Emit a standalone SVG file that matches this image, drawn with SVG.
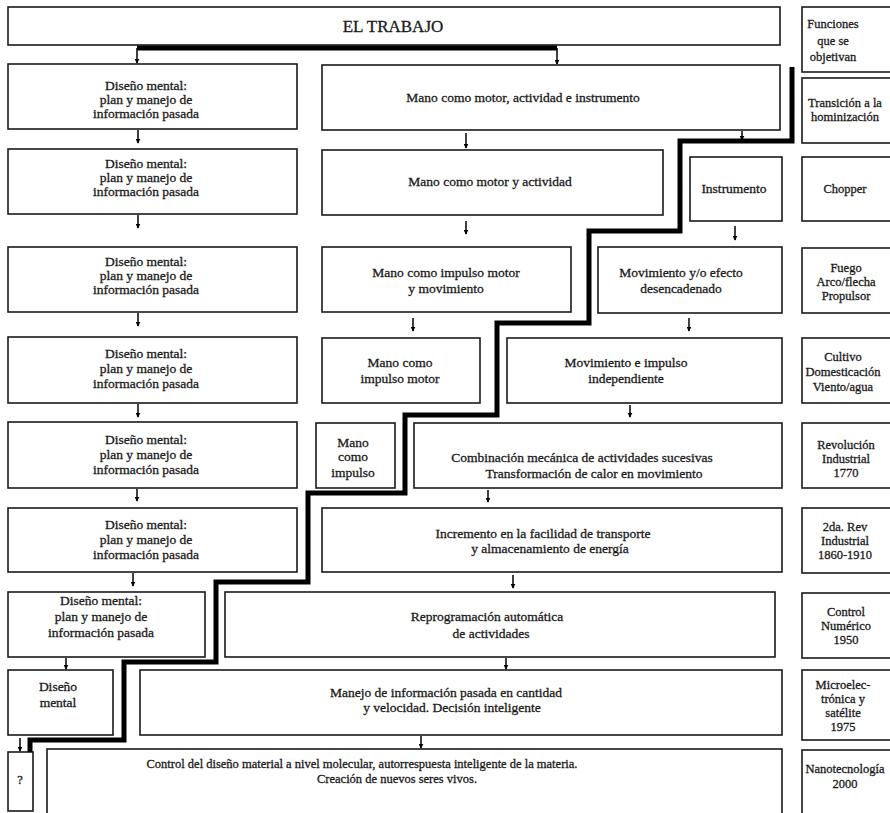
<svg xmlns="http://www.w3.org/2000/svg" width="890" height="813" viewBox="0 0 890 813">
<style>
.b{fill:#fff;stroke:#1a1a1a;stroke-width:1.6}
text{font-family:"Liberation Serif","Times New Roman",serif;fill:#1a1a1a;stroke:#1a1a1a;stroke-width:0.3;text-anchor:middle}
.t{font-size:13.5px}
.r{font-size:12.5px}
.s{font-size:12.5px}
.h{font-size:17px}
.thick{fill:none;stroke:#000;stroke-width:5;stroke-linejoin:miter}
.a{stroke:#000;stroke-width:1.5;fill:none;marker-end:url(#ah)}
</style>
<defs>
<marker id="ah" viewBox="0 0 8 8" refX="7" refY="4" markerWidth="5" markerHeight="5" markerUnits="userSpaceOnUse" orient="auto"><path d="M0,0 L8,4 L0,8 Z" fill="#000"/></marker>
</defs>
<rect width="890" height="813" fill="#fff"/>

<g id="trabajo"><rect class="b" x="8" y="7" width="772" height="38"/><text class="h" x="393" y="32">EL TRABAJO</text></g>

<g id="r1"><rect class="b" x="802" y="7" width="100" height="65"/><text class="r" x="833" y="28">Funciones</text><text class="r" x="833" y="45">que se</text><text class="r" x="833" y="61">objetivan</text></g>
<g id="r2"><rect class="b" x="802" y="78" width="100" height="65"/><text class="r" x="845" y="107">Transición a la</text><text class="r" x="845" y="121">hominización</text></g>
<g id="r3"><rect class="b" x="802" y="157" width="100" height="64"/><text class="r" x="845" y="193">Chopper</text></g>
<g id="r4"><rect class="b" x="802" y="248" width="100" height="65"/><text class="r" x="846" y="272">Fuego</text><text class="r" x="846" y="286">Arco/flecha</text><text class="r" x="846" y="300">Propulsor</text></g>
<g id="r5"><rect class="b" x="802" y="338" width="100" height="65"/><text class="r" x="843" y="361">Cultivo</text><text class="r" x="843" y="376">Domesticación</text><text class="r" x="843" y="391">Viento/agua</text></g>
<g id="r6"><rect class="b" x="802" y="423" width="100" height="65"/><text class="r" x="846" y="449">Revolución</text><text class="r" x="846" y="463">Industrial</text><text class="r" x="846" y="477">1770</text></g>
<g id="r7"><rect class="b" x="802" y="508" width="100" height="65"/><text class="r" x="845" y="531">2da. Rev</text><text class="r" x="845" y="545">Industrial</text><text class="r" x="845" y="559">1860-1910</text></g>
<g id="r8"><rect class="b" x="802" y="593" width="100" height="65"/><text class="r" x="846" y="616">Control</text><text class="r" x="846" y="630">Numérico</text><text class="r" x="846" y="644">1950</text></g>
<g id="r9"><rect class="b" x="802" y="670" width="100" height="70"/><text class="r" x="843" y="689">Microelec-</text><text class="r" x="843" y="703">trónica y</text><text class="r" x="843" y="717">satélite</text><text class="r" x="843" y="731">1975</text></g>
<g id="r10"><rect class="b" x="802" y="750" width="100" height="80"/><text class="r" x="845" y="773">Nanotecnología</text><text class="r" x="845" y="788">2000</text></g>

<g id="d1"><rect class="b" x="8" y="64" width="289" height="65"/><text class="t" x="146" y="90">Diseño mental:</text><text class="t" x="146" y="104">plan y manejo de</text><text class="t" x="146" y="118">información pasada</text></g>
<g id="d2"><rect class="b" x="8" y="149" width="289" height="65"/><text class="t" x="146" y="168">Diseño mental:</text><text class="t" x="146" y="182">plan y manejo de</text><text class="t" x="146" y="196">información pasada</text></g>
<g id="d3"><rect class="b" x="8" y="247" width="289" height="65"/><text class="t" x="146" y="266">Diseño mental:</text><text class="t" x="146" y="280">plan y manejo de</text><text class="t" x="146" y="294">información pasada</text></g>
<g id="d4"><rect class="b" x="8" y="337" width="289" height="66"/><text class="t" x="146" y="358">Diseño mental:</text><text class="t" x="146" y="373">plan y manejo de</text><text class="t" x="146" y="388">información pasada</text></g>
<g id="d5"><rect class="b" x="8" y="422" width="289" height="66"/><text class="t" x="146" y="444">Diseño mental:</text><text class="t" x="146" y="459">plan y manejo de</text><text class="t" x="146" y="474">información pasada</text></g>
<g id="d6"><rect class="b" x="8" y="508" width="289" height="64"/><text class="t" x="146" y="529">Diseño mental:</text><text class="t" x="146" y="544">plan y manejo de</text><text class="t" x="146" y="559">información pasada</text></g>
<g id="d7"><rect class="b" x="8" y="592" width="197" height="65"/><text class="t" x="101" y="605">Diseño mental:</text><text class="t" x="101" y="621">plan y manejo de</text><text class="t" x="101" y="637">información pasada</text></g>
<g id="d8"><rect class="b" x="8" y="670" width="105" height="65"/><text class="t" x="58" y="691">Diseño</text><text class="t" x="58" y="707">mental</text></g>
<g id="q"><rect class="b" x="8" y="752" width="25" height="59"/><text class="s" x="20" y="784">?</text></g>

<g id="m1"><rect class="b" x="322" y="65" width="458" height="65"/><text class="t" x="523" y="102">Mano como motor, actividad e instrumento</text></g>
<g id="m2"><rect class="b" x="322" y="150" width="341" height="65"/><text class="t" x="490" y="186">Mano como motor y actividad</text></g>
<g id="inst"><rect class="b" x="690" y="157" width="92" height="64"/><text class="t" x="734" y="193">Instrumento</text></g>
<g id="m3"><rect class="b" x="322" y="247" width="249" height="65"/><text class="t" x="446" y="277">Mano como impulso motor</text><text class="t" x="446" y="293">y movimiento</text></g>
<g id="mov1"><rect class="b" x="598" y="247" width="184" height="66"/><text class="t" x="681" y="277">Movimiento y/o efecto</text><text class="t" x="681" y="293">desencadenado</text></g>
<g id="m4"><rect class="b" x="322" y="338" width="158" height="65"/><text class="t" x="400" y="367">Mano como</text><text class="t" x="400" y="383">impulso motor</text></g>
<g id="mov2"><rect class="b" x="507" y="338" width="275" height="65"/><text class="t" x="626" y="367">Movimiento e impulso</text><text class="t" x="626" y="383">independiente</text></g>
<g id="m5"><rect class="b" x="316" y="423" width="79" height="65"/><text class="t" x="353" y="447">Mano</text><text class="t" x="353" y="461">como</text><text class="t" x="353" y="477">impulso</text></g>
<g id="comb"><rect class="b" x="414" y="423" width="368" height="65"/><text class="t" x="582" y="462">Combinación mecánica de actividades sucesivas</text><text class="t" x="594" y="478">Transformación de calor en movimiento</text></g>
<g id="incr"><rect class="b" x="322" y="508" width="460" height="64"/><text class="t" x="543" y="538">Incremento en la facilidad de transporte</text><text class="t" x="550" y="553">y almacenamiento de energía</text></g>
<g id="repro"><rect class="b" x="225" y="592" width="550" height="65"/><text class="t" x="487" y="621">Reprogramación automática</text><text class="t" x="491" y="638">de actividades</text></g>
<g id="manejo"><rect class="b" x="140" y="670" width="642" height="65"/><text class="t" x="446" y="697">Manejo de información pasada en cantidad</text><text class="t" x="452" y="712">y velocidad. Decisión inteligente</text></g>
<g id="control"><rect class="b" x="47" y="749" width="735" height="80"/><text class="s" x="362" y="768">Control del diseño material a nivel molecular, autorrespuesta inteligente de la materia.</text><text class="s" x="397" y="783">Creación de nuevos seres vivos.</text></g>

<g id="connectors">
<path class="thick" d="M137,48 H557"/>
<path class="thick" d="M792,67 V141 H680 V231 H589 V323 H497 V415 H405 V493 H308 V582 H216 V662 H124 V740 H30 V752"/>
<line class="a" x1="137" y1="48" x2="137" y2="63"/>
<line class="a" x1="557" y1="48" x2="557" y2="64"/>
<line class="a" x1="138" y1="130" x2="138" y2="143"/>
<line class="a" x1="138" y1="215" x2="138" y2="228"/>
<line class="a" x1="138" y1="313" x2="138" y2="326"/>
<line class="a" x1="138" y1="404" x2="138" y2="417"/>
<line class="a" x1="137" y1="489" x2="137" y2="501"/>
<line class="a" x1="133" y1="573" x2="133" y2="586"/>
<line class="a" x1="66" y1="658" x2="66" y2="669"/>
<line class="a" x1="20" y1="738" x2="20" y2="751"/>
<line class="a" x1="466" y1="133" x2="466" y2="148"/>
<line class="a" x1="742" y1="131" x2="742" y2="140"/>
<line class="a" x1="466" y1="221" x2="466" y2="234"/>
<line class="a" x1="735" y1="226" x2="735" y2="240"/>
<line class="a" x1="413" y1="318" x2="413" y2="331"/>
<line class="a" x1="689" y1="318" x2="689" y2="331"/>
<line class="a" x1="630" y1="405" x2="630" y2="417"/>
<line class="a" x1="488" y1="490" x2="488" y2="502"/>
<line class="a" x1="513" y1="575" x2="513" y2="588"/>
<line class="a" x1="506" y1="658" x2="506" y2="669"/>
<line class="a" x1="421" y1="736" x2="421" y2="748"/>
</g>
</svg>
